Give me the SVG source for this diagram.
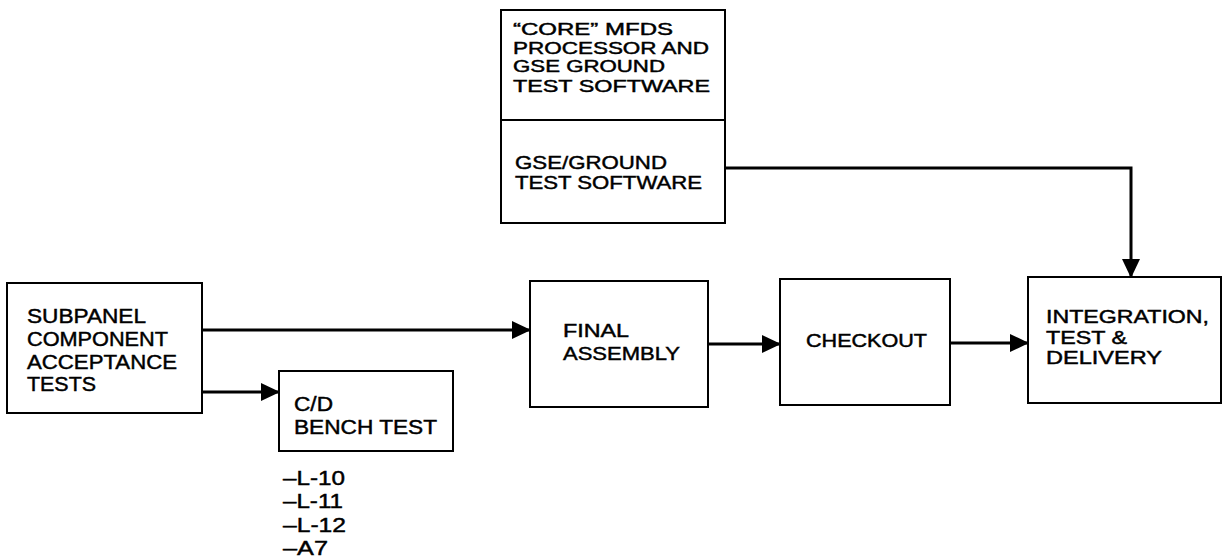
<svg xmlns="http://www.w3.org/2000/svg" width="1224" height="558" viewBox="0 0 1224 558">
  <style>
    .box { fill: #fff; stroke: #000; stroke-width: 2; }
    .lbl { font-family: "Liberation Sans", Arial, sans-serif; font-size: 18.5px; fill: #000; stroke: #000; stroke-width: 0.45; }
    .big { font-size: 20px; }
    .tight { font-size: 16.5px; }
    .wire { fill: none; stroke: #000; stroke-width: 3; }
  </style>
  <defs>
    <marker id="head" viewBox="0 0 19 20" markerUnits="userSpaceOnUse" markerWidth="19" markerHeight="20" refX="18" refY="10" orient="auto">
      <path d="M0,1 L19,10 L0,19 z" fill="#000"/>
    </marker>
  </defs>
  <rect width="1224" height="558" fill="#fff"/>

  <!-- software blocks (stacked) -->
  <g id="core-software">
    <rect class="box" x="501" y="10" width="224" height="110"/>
    <text class="lbl tight" x="513" y="35" textLength="160" lengthAdjust="spacingAndGlyphs">“CORE” MFDS</text>
    <text class="lbl tight" x="513" y="53.5" textLength="196" lengthAdjust="spacingAndGlyphs">PROCESSOR AND</text>
    <text class="lbl tight" x="513" y="72" textLength="152" lengthAdjust="spacingAndGlyphs">GSE GROUND</text>
    <text class="lbl tight" x="513" y="91.5" textLength="197" lengthAdjust="spacingAndGlyphs">TEST SOFTWARE</text>
  </g>
  <g id="gse-software">
    <rect class="box" x="501" y="120" width="224" height="103"/>
    <text class="lbl" x="515" y="169" textLength="152" lengthAdjust="spacingAndGlyphs">GSE/GROUND</text>
    <text class="lbl" x="515" y="189" textLength="187" lengthAdjust="spacingAndGlyphs">TEST SOFTWARE</text>
  </g>

  <g id="subpanel">
    <rect class="box" x="7" y="283" width="195" height="130"/>
    <text class="lbl big" x="27" y="323" textLength="119" lengthAdjust="spacingAndGlyphs">SUBPANEL</text>
    <text class="lbl big" x="27" y="346" textLength="141" lengthAdjust="spacingAndGlyphs">COMPONENT</text>
    <text class="lbl big" x="27" y="368.5" textLength="150" lengthAdjust="spacingAndGlyphs">ACCEPTANCE</text>
    <text class="lbl big" x="27" y="390.5" textLength="69" lengthAdjust="spacingAndGlyphs">TESTS</text>
  </g>

  <g id="bench-test">
    <rect class="box" x="279" y="371" width="174" height="80"/>
    <text class="lbl big" x="294" y="410.5" textLength="39" lengthAdjust="spacingAndGlyphs">C/D</text>
    <text class="lbl big" x="294" y="434" textLength="143" lengthAdjust="spacingAndGlyphs">BENCH TEST</text>
    <text class="lbl big" x="283" y="485" textLength="62" lengthAdjust="spacingAndGlyphs">–L-10</text>
    <text class="lbl big" x="283" y="508" textLength="60" lengthAdjust="spacingAndGlyphs">–L-11</text>
    <text class="lbl big" x="283" y="532" textLength="63" lengthAdjust="spacingAndGlyphs">–L-12</text>
    <text class="lbl big" x="283" y="555" textLength="45" lengthAdjust="spacingAndGlyphs">–A7</text>
  </g>

  <g id="final-assembly">
    <rect class="box" x="530" y="281" width="178" height="126"/>
    <text class="lbl" x="563" y="337" textLength="66" lengthAdjust="spacingAndGlyphs">FINAL</text>
    <text class="lbl" x="563" y="360" textLength="117" lengthAdjust="spacingAndGlyphs">ASSEMBLY</text>
  </g>

  <g id="checkout">
    <rect class="box" x="780" y="279" width="170" height="126"/>
    <text class="lbl" x="806" y="346.5" textLength="121" lengthAdjust="spacingAndGlyphs">CHECKOUT</text>
  </g>

  <g id="integration">
    <rect class="box" x="1028" y="277" width="193" height="126"/>
    <text class="lbl" x="1046" y="322.5" textLength="163" lengthAdjust="spacingAndGlyphs">INTEGRATION,</text>
    <text class="lbl" x="1046" y="344" textLength="81" lengthAdjust="spacingAndGlyphs">TEST &amp;</text>
    <text class="lbl" x="1046" y="364" textLength="116" lengthAdjust="spacingAndGlyphs">DELIVERY</text>
  </g>

  <g id="connectors">
    <line class="wire" x1="202" y1="330" x2="530" y2="330" marker-end="url(#head)"/>
    <line class="wire" x1="202" y1="392" x2="279" y2="392" marker-end="url(#head)"/>
    <line class="wire" x1="708" y1="344" x2="780" y2="344" marker-end="url(#head)"/>
    <line class="wire" x1="950" y1="343" x2="1028" y2="343" marker-end="url(#head)"/>
    <polyline class="wire" points="725,168 1131,168 1131,277" marker-end="url(#head)"/>
  </g>
</svg>
